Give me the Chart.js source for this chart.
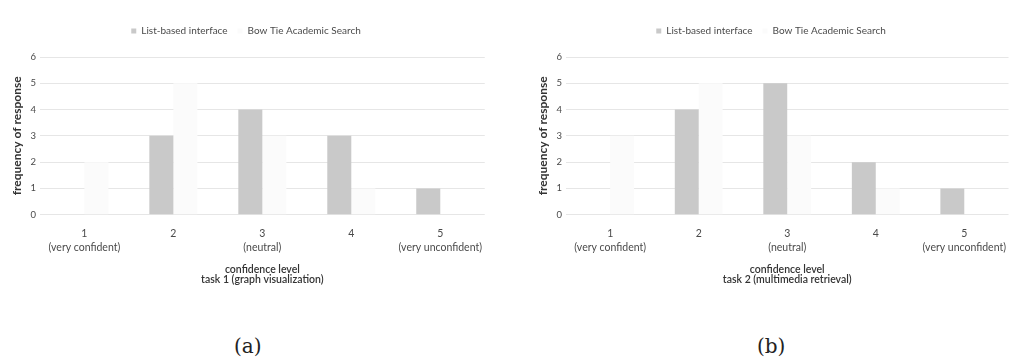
<!DOCTYPE html>
<html>
<head>
<meta charset="utf-8">
<script src="https://cdn.jsdelivr.net/npm/chart.js@4.4.1/dist/chart.umd.min.js"></script>
<style>
  body { margin: 0; background: #fff; width: 1010px; height: 364px; position: relative; overflow: hidden; }
  .box { position: absolute; top: 0; height: 289px; }
  #boxA { left: 0; width: 486px; }
  #boxB { left: 526px; width: 484px; }
  .cap { position: absolute; top: 334px; font-family: "DejaVu Serif", "Liberation Serif", serif; font-size: 20px; color: #222; }
</style>
</head>
<body>
<div class="box" id="boxA"><canvas id="chartA"></canvas></div>
<div class="box" id="boxB"><canvas id="chartB"></canvas></div>
<div class="cap" style="left:234px">(a)</div>
<div class="cap" style="left:757px">(b)</div>
<script>
// Dados
const categories = [['1', '(very confident)'], '2', ['3', '(neutral)'], '4', ['5', '(very unconfident)']];
const seriesNames = ['List-based interface', 'Bow Tie Academic Search'];
const yTicks = [0, 1, 2, 3, 4, 5, 6];

// tarefa 1 (graph visualization)
const task1List = [0, 3, 4, 3, 1];
const task1BowTie = [2, 5, 3, 1, 0];
// tarefa 2 (multimedia retrieval)
const task2List = [0, 4, 5, 2, 1];
const task2BowTie = [3, 5, 3, 1, 0];

const FONT = "Lato, 'Open Sans', sans-serif";
const TEXT = '#4a4a4a';

// Espaço extra abaixo da legenda
const legendMargin = {
    id: 'legendMargin',
    beforeInit(chart) {
        const fit = chart.legend.fit;
        chart.legend.fit = function () {
            fit.bind(chart.legend)();
            this.height += 11;
        };
    }
};

function makeChart(id, listData, bowTieData, taskTitle) {
    const ctx = document.getElementById(id);
    return new Chart(ctx, {
        type: 'bar',
        data: {
            labels: categories,
            datasets: [
                {
                    label: seriesNames[0],
                    data: listData,
                    backgroundColor: '#c9c9c9',
                    borderWidth: 0,
                    barPercentage: 1,
                    categoryPercentage: 0.54
                },
                {
                    label: seriesNames[1],
                    data: bowTieData,
                    backgroundColor: '#fbfbfb',
                    borderWidth: 0,
                    barPercentage: 1,
                    categoryPercentage: 0.54
                }
            ]
        },
        plugins: [legendMargin],
        options: {
            responsive: true,
            maintainAspectRatio: false,
            animation: false,
            layout: { padding: { top: 16, right: 0, left: 6, bottom: 0 } },
            plugins: {
                legend: {
                    position: 'top',
                    labels: {
                        color: TEXT,
                        boxWidth: 5,
                        boxHeight: 5,
                        padding: 10,
                        font: { size: 10, family: FONT }
                    }
                },
                tooltip: { enabled: false }
            },
            scales: {
                x: {
                    grid: { display: false },
                    border: { display: false },
                    ticks: {
                        color: TEXT,
                        maxRotation: 0,
                        padding: 4,
                        font: { size: 10.5, family: FONT, lineHeight: 1.3 }
                    },
                    title: {
                        display: true,
                        text: ['confidence level', taskTitle],
                        color: '#333',
                        padding: { top: 6 },
                        font: { size: 10.5, family: FONT, weight: '600', lineHeight: 1.0 }
                    }
                },
                y: {
                    min: 0,
                    max: 6,
                    afterBuildTicks: (axis) => {
                        axis.ticks = yTicks.map(v => ({ value: v }));
                    },
                    grid: { color: '#e6e6e6', drawTicks: false },
                    border: { display: false },
                    ticks: {
                        color: TEXT,
                        padding: 4,
                        font: { size: 9.5, family: FONT }
                    },
                    title: {
                        display: true,
                        text: 'frequency of response',
                        color: '#333',
                        padding: { bottom: 2 },
                        font: { size: 12, family: FONT, weight: 'bold' }
                    }
                }
            }
        }
    });
}

document.addEventListener('DOMContentLoaded', () => {
    makeChart('chartA', task1List, task1BowTie, 'task 1 (graph visualization)');
    makeChart('chartB', task2List, task2BowTie, 'task 2 (multimedia retrieval)');
});
</script>
</body>
</html>
